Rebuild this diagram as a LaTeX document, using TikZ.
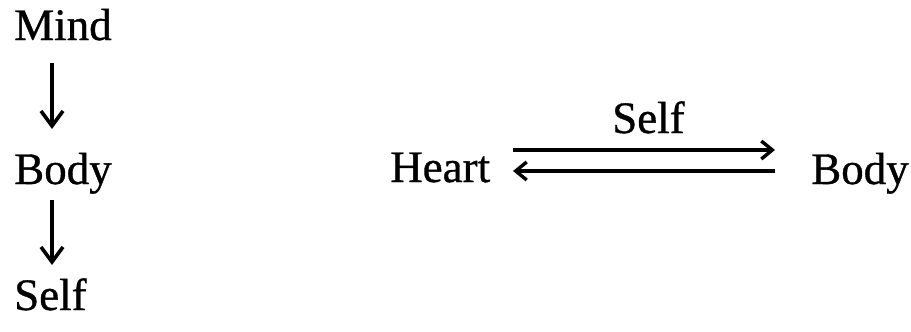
\documentclass[tikz,border=0pt]{standalone}
\usepackage{fontspec}
\newfontfamily\lblfont{Liberation Serif}[FakeBold=0.8]
\usetikzlibrary{arrows.meta,calc}
\begin{document}
\begin{tikzpicture}[x=1pt,y=-1pt,
  lbl/.style={anchor=base west,inner sep=0pt,font=\lblfont\fontsize{45}{50}\selectfont},
  arr/.style={line width=3.4pt,-{Straight Barb[length=11pt,width=18pt,line width=3.4pt]}},
  varr/.style={arr,-{Straight Barb[length=15pt,width=22pt,line width=3.6pt]}}]
\useasboundingbox (0,0) rectangle (911,332);
\node[lbl] (mind) at (14,40) {Mind};
\node[lbl] (bodyL) at (14,184) {Body};
\node[lbl] (selfL) at (14,310) {Self};
\node[lbl] (heart) at (390,182) {Heart};
\node[lbl] (bodyR) at (811,184) {Body};
\node[lbl] (selfT) at (612,133) {Self};
\draw[varr] ($(mind.base west)+(38,23)$) -- ($(bodyL.base west)+(38,-55)$);
\draw[varr] ($(bodyL.base west)+(38,16)$) -- ($(selfL.base west)+(38,-45)$);
\draw[arr] ($(heart.base west)+(123,-32)$) -- ($(bodyR.base west)+(-36,-34)$);
\draw[arr] ($(bodyR.base west)+(-36,-13)$) -- ($(heart.base west)+(123,-11)$);
\end{tikzpicture}
\end{document}
